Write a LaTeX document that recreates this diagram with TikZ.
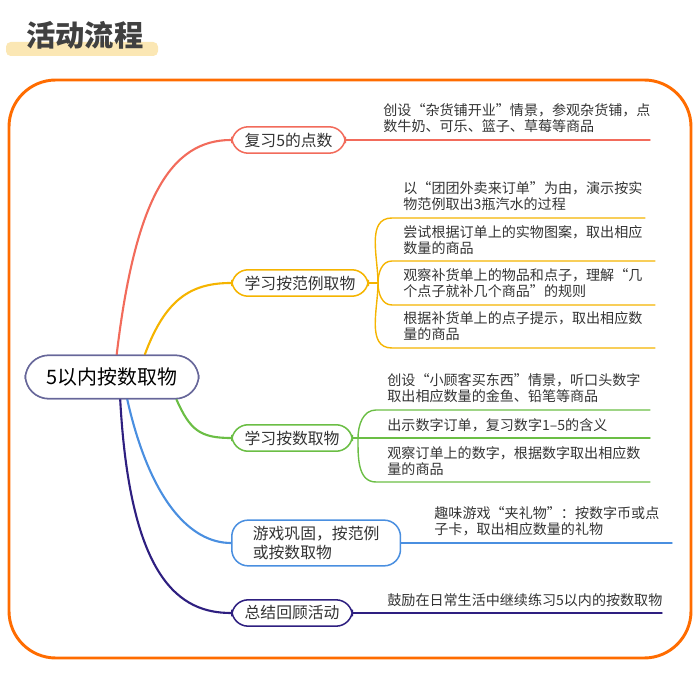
\documentclass[tikz,border=0pt]{standalone}
\usepackage{fontspec}
\setmainfont{Noto Sans CJK SC}
\usetikzlibrary{positioning}
\begin{document}
\begin{tikzpicture}
		[x=0.03cm,y=-0.03cm,line cap=round,
		%Styles
		topic/.style={draw=#1,line width=1.3pt,rounded corners=14pt,fill=white,inner xsep=11pt,inner ysep=5pt,font=\fontsize{13.5}{16.5}\selectfont,text=black!80,align=left},
		branch/.style={draw=#1,line width=1.8pt},
		leaf line/.style={draw=#1,line width=1.2pt},
		leaf text/.style={anchor=south west,inner sep=1pt,font=\fontsize{12}{13.6}\selectfont,text=black!80,align=left}
		]
		
		%Colors
		\colorlet{framecolor}{orange!85!red}
		\definecolor{redb}{HTML}{F26B5B}
		\definecolor{orangeb}{HTML}{F5B400}
		\definecolor{greenb}{HTML}{6BBE45}
		\definecolor{blueb}{HTML}{4A8FE0}
		\definecolor{navyb}{HTML}{2E1F80}
		\definecolor{hilite}{HTML}{FBE7B4}
		
		\useasboundingbox (0,0) rectangle (700,685);
		
		%Title
		\fill[hilite,rounded corners=4pt] (6,42) rectangle (158,56);
		\node[font=\fontsize{25}{27}\bfseries\selectfont,text=black!75] (title) at (85,35) {活动流程};
		\draw[framecolor,line width=2.5pt,rounded corners=40pt] (9,80) rectangle (691,658);
		
		%Topics
		\node[draw=gray!80!blue,line width=1.3pt,rounded corners=20pt,fill=white,minimum width=5.2cm,minimum height=1.3cm,font=\fontsize{17}{20}\selectfont] (root) at (112,377) {5以内按数取物};
		\node[topic=redb,anchor=west] (t1) at (231,140) {复习5的点数};
		\node[topic=orangeb,anchor=west] (t2) at (231,283) {学习按范例取物};
		\node[topic=greenb,anchor=west] (t3) at (231,438) {学习按数取物};
		\node[topic=blueb,anchor=west,inner xsep=18pt] (t4) at (231,543) {游戏巩固，按范例\\或按数取物};
		\node[topic=navyb,anchor=west] (t5) at (231,613) {总结回顾活动};
		
		%Branches
		\draw[branch=redb] ([xshift=4pt]root.north) .. controls (135,200) and (170,140) .. (t1.west);
		\draw[branch=orangeb] ([xshift=28pt]root.north) .. controls (165,300) and (190,283) .. (t2.west);
		\draw[branch=greenb] ([xshift=55pt]root.south) .. controls (190,430) and (200,438) .. (t3.west);
		\draw[branch=blueb] ([xshift=13pt]root.south) .. controls (150,500) and (190,543) .. (t4.west);
		\draw[branch=navyb] ([xshift=7pt]root.south) .. controls (130,580) and (180,613) .. (t5.west);
		\node[draw=gray!80!blue,line width=1.3pt,rounded corners=20pt,fill=white,minimum width=5.2cm,minimum height=1.3cm,font=\fontsize{17}{20}\selectfont] at (root) {5以内按数取物};
		
		%Leaves of t1
		\coordinate (e1) at (650,140);
		\draw[leaf line=redb] (t1.east) -- (e1);
		\node[leaf text] (x1) at (382,134) {创设“杂货铺开业”情景，参观杂货铺，点\\数牛奶、可乐、篮子、草莓等商品};
		
		%Leaves of t2
		\coordinate (s2) at (378,283);
		\draw[leaf line=orangeb] (t2.east) -- (s2);
		\foreach \y/\e [count=\i] in {218/645,261/655,305/655,348/655}{
			\coordinate (a2\i) at (392,\y);
			\coordinate (b2\i) at (\e,\y);
			\draw[leaf line=orangeb] (s2) to[out=90*sign(283-\y),in=180] (a2\i) -- (b2\i);
		}
		\node[leaf text] (x21) at (402,212) {以“团团外卖来订单”为由，演示按实\\物范例取出3瓶汽水的过程};
		\node[leaf text] (x22) at (402,256) {尝试根据订单上的实物图案，取出相应\\数量的商品};
		\node[leaf text] (x23) at (402,299) {观察补货单上的物品和点子，理解“几\\个点子就补几个商品”的规则};
		\node[leaf text] (x24) at (402,342) {根据补货单上的点子提示，取出相应数\\量的商品};
		
		%Leaves of t3
		\coordinate (s3) at (358,438);
		\draw[leaf line=greenb] (t3.east) -- (s3);
		\foreach \y [count=\i] in {410,438,482}{
			\coordinate (a3\i) at (376,\y);
			\coordinate (b3\i) at (650,\y);
		}
		\draw[leaf line=greenb] (s3) to[out=90,in=180] (a31) -- (b31);
		\draw[leaf line=greenb] (s3) -- (b32);
		\draw[leaf line=greenb] (s3) to[out=-90,in=180] (a33) -- (b33);
		\node[leaf text] (x31) at (386,404) {创设“小顾客买东西”情景，听口头数字\\取出相应数量的金鱼、铅笔等商品};
		\node[leaf text] (x32) at (386,433) {出示数字订单，复习数字1–5的含义};
		\node[leaf text] (x33) at (386,477) {观察订单上的数字，根据数字取出相应数\\量的商品};
		
		%Leaves of t4
		\coordinate (e4) at (672,543);
		\draw[leaf line=blueb] (t4.east) -- (e4);
		\node[leaf text] (x4) at (433,537) {趣味游戏“夹礼物”：按数字币或点\\子卡，取出相应数量的礼物};
		
		%Leaves of t5
		\coordinate (e5) at (662,613);
		\draw[leaf line=navyb] (t5.east) -- (e5);
		\node[leaf text] (x5) at (386,608) {鼓励在日常生活中继续练习5以内的按数取物};
	\end{tikzpicture}
\end{document}
